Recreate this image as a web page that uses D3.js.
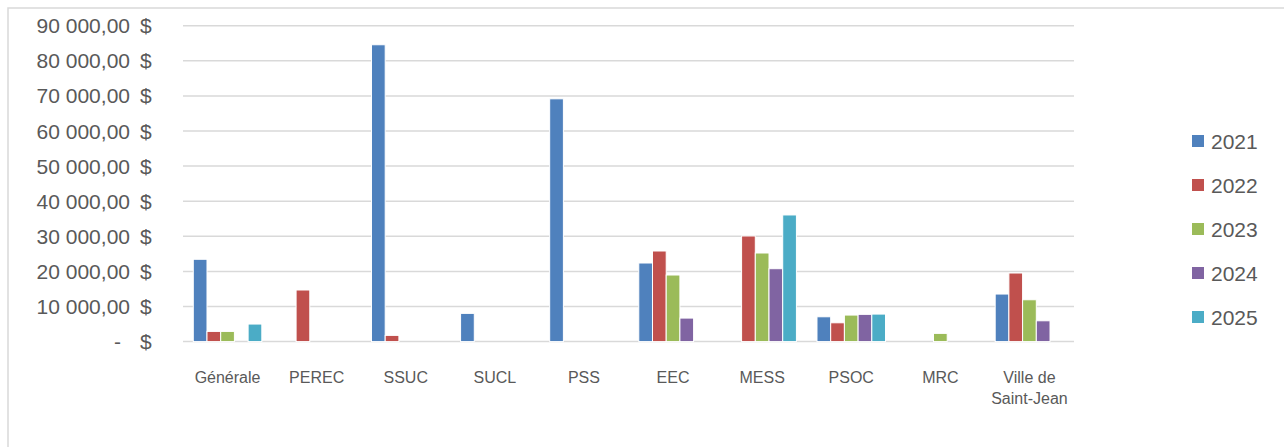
<!DOCTYPE html>
<html>
<head>
<meta charset="utf-8">
<script src="https://cdn.jsdelivr.net/npm/d3@7"></script>
<style>
  html, body { margin: 0; padding: 0; background: #fff; }
  svg { display: block; }
  text { font-family: "Liberation Sans", Arial, sans-serif; fill: #595959; }
</style>
</head>
<body>
<svg id="chart" width="1284" height="447"></svg>
<script>
const categories = ["Générale", "PEREC", "SSUC", "SUCL", "PSS", "EEC", "MESS", "PSOC", "MRC", "Ville de|Saint-Jean"];
const years = ["2021", "2022", "2023", "2024", "2025"];
const values2021 = [23450, 0, 84570, 8040, 69170, 22390, 0, 7070, 0, 13550];
const values2022 = [2900, 14700, 1770, 0, 0, 25810, 30090, 5360, 0, 19540];
const values2023 = [2900, 0, 0, 0, 0, 18970, 25240, 7560, 2340, 11920];
const values2024 = [0, 0, 0, 0, 0, 6700, 20770, 7760, 0, 5930];
const values2025 = [5000, 0, 0, 0, 0, 0, 36080, 7840, 0, 0];
const yTicks = [0, 10000, 20000, 30000, 40000, 50000, 60000, 70000, 80000, 90000];
const colors = ["#4F81BD", "#C0504D", "#9BBB59", "#8064A2", "#4BACC6"];

const series = [values2021, values2022, values2023, values2024, values2025];

const svg = d3.select("#chart");

// outer frame
svg.append("rect")
  .attr("x", 8).attr("y", 8)
  .attr("width", 1400).attr("height", 600)
  .attr("fill", "none").attr("stroke", "#d9d9d9").attr("stroke-width", 1.5);

const plotLeft = 183, plotRight = 1074;
const y = d3.scaleLinear().domain([0, 90000]).range([341.6, 25.7]);
const x0 = d3.scaleBand().domain(categories).range([plotLeft, plotRight]).padding(0);
const cat = x0.bandwidth();
const slot = cat / 6.5;
const x1 = d3.scaleBand().domain(years).range([slot * 0.75, cat - slot * 0.75]).padding(0);

// gridlines
svg.append("g").selectAll("line").data(yTicks).join("line")
  .attr("x1", plotLeft).attr("x2", plotRight)
  .attr("y1", d => y(d)).attr("y2", d => y(d))
  .attr("stroke", "#d9d9d9").attr("stroke-width", 1.5);

// y labels
const fmt = v => {
  if (v === 0) return "-";
  const s = d3.format(",.2f")(v);
  return s.replace(/,/g, " ").replace(".", ",");
};
const yl = svg.append("g");
yl.selectAll("text.num").data(yTicks).join("text")
  .attr("class", "num")
  .attr("x", d => d === 0 ? 121 : 130)
  .attr("y", d => y(d) + 7.5)
  .attr("text-anchor", "end")
  .style("font-size", "21px")
  .text(d => fmt(d));
yl.selectAll("text.cur").data(yTicks).join("text")
  .attr("class", "cur")
  .attr("x", 140)
  .attr("y", d => y(d) + 7.5)
  .style("font-size", "21px")
  .text("$");

// bars
const flat = [];
categories.forEach((c, i) => {
  years.forEach((yr, j) => {
    const v = series[j][i];
    if (v > 0) flat.push({ c, yr, v, j });
  });
});
svg.append("g").selectAll("rect").data(flat).join("rect")
  .attr("x", d => x0(d.c) + x1(d.yr))
  .attr("width", x1.bandwidth())
  .attr("y", d => y(d.v))
  .attr("height", d => y(0) - y(d.v))
  .attr("fill", d => colors[d.j])
  .attr("stroke", "#fff").attr("stroke-width", 1);

// x labels
const xl = svg.append("g").selectAll("text").data(categories).join("text")
  .attr("x", d => x0(d) + cat / 2)
  .attr("y", 383)
  .attr("text-anchor", "middle")
  .style("font-size", "16px");
xl.each(function(d) {
  const parts = d.split("|");
  const t = d3.select(this);
  parts.forEach((p, k) => {
    t.append("tspan").attr("x", x0(d) + cat / 2).attr("dy", k === 0 ? 0 : 21).text(p);
  });
});

// legend
const lg = svg.append("g").selectAll("g").data(years).join("g")
  .attr("transform", (d, i) => `translate(1192, ${141 + i * 44})`);
lg.append("rect").attr("x", 0).attr("y", -6).attr("width", 12).attr("height", 12)
  .attr("fill", (d, i) => colors[i]);
lg.append("text").attr("x", 19).attr("y", 7.5).style("font-size", "21px").text(d => d);
</script>
</body>
</html>
